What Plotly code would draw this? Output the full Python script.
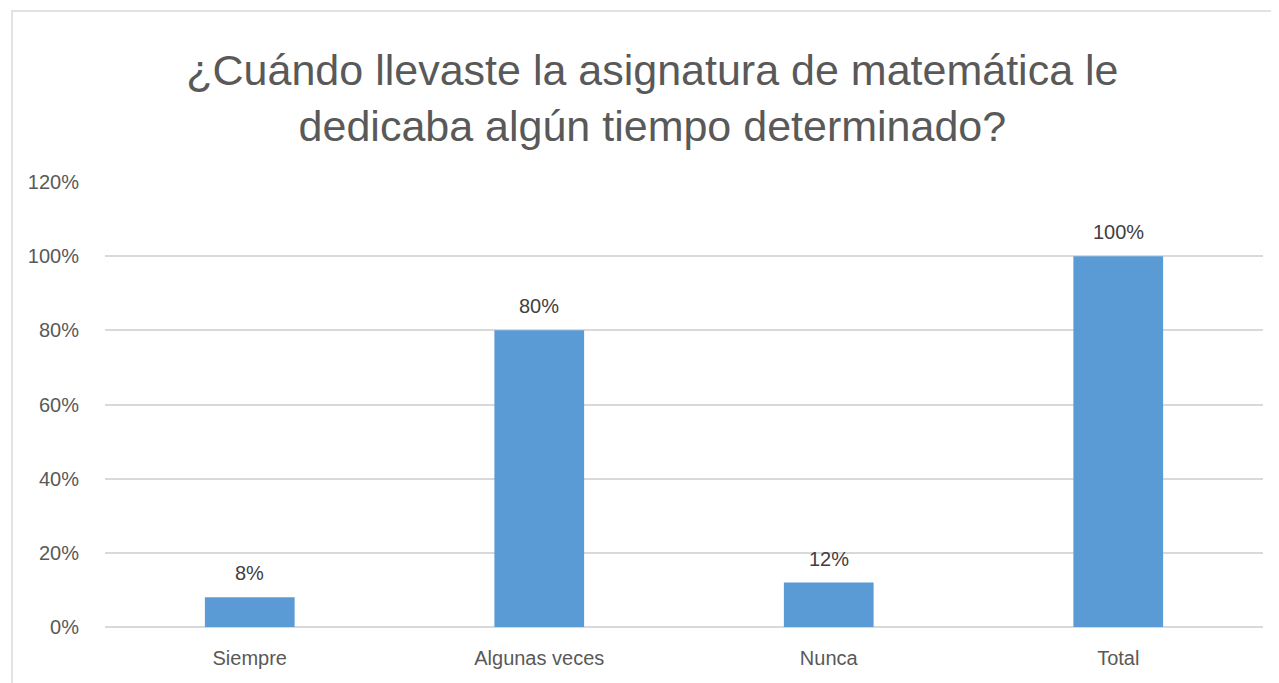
import plotly.graph_objects as go

categorias = ["Siempre", "Algunas veces", "Nunca", "Total"]
porcentajes = [0.08, 0.80, 0.12, 1.00]
etiquetas = ["8%", "80%", "12%", "100%"]
ticks_y = [0, 0.2, 0.4, 0.6, 0.8, 1.0, 1.2]
ticks_y_texto = ["0%", "20%", "40%", "60%", "80%", "100%", "120%"]

gris = "#595959"
fuente = "Liberation Sans"

fig = go.Figure(
    go.Bar(
        x=categorias,
        y=porcentajes,
        marker=dict(color="#5B9BD5", line=dict(width=0)),
        width=0.31,
        hoverinfo="skip",
    )
)

# etiquetas de datos encima de cada barra
for cat, val, txt in zip(categorias, porcentajes, etiquetas):
    fig.add_annotation(
        x=cat, y=val, text=txt, showarrow=False,
        yanchor="bottom", yshift=11,
        font=dict(family=fuente, size=20, color="#404040"),
    )

# marco del grafico (recortado a derecha y abajo)
fig.add_shape(
    type="rect", xref="paper", yref="paper",
    x0=-0.0803, x1=1.2, y0=-0.3, y1=1.384,
    line=dict(color="#D9D9D9", width=1.5), layer="below",
)

# la pagina deja 8 px de margen, por eso 1271x675
fig.update_layout(
    width=1271, height=675,
    margin=dict(l=97, r=16, t=174, b=56),
    paper_bgcolor="white", plot_bgcolor="white",
    showlegend=False,
    font=dict(family=fuente, color=gris),
    title=dict(
        text="¿Cuándo llevaste la asignatura de matemática le<br>dedicaba algún tiempo determinado?",
        x=0.507, xanchor="center", y=0.886, yanchor="middle",
        font=dict(family=fuente, size=43, color=gris),
    ),
)
fig.update_xaxes(
    showgrid=False, showline=False, ticks="", ticklabelstandoff=17,
    tickfont=dict(size=20, color=gris),
)
fig.update_yaxes(
    range=[0, 1.2], tickvals=ticks_y, ticktext=ticks_y_texto,
    showgrid=True, gridcolor="#D9D9D9", gridwidth=1.5,
    zeroline=True, zerolinecolor="#D9D9D9", zerolinewidth=1.5,
    showline=False, ticks="", ticklabelstandoff=25,
    tickfont=dict(size=20, color=gris),
)

fig.write_html("out.html")
